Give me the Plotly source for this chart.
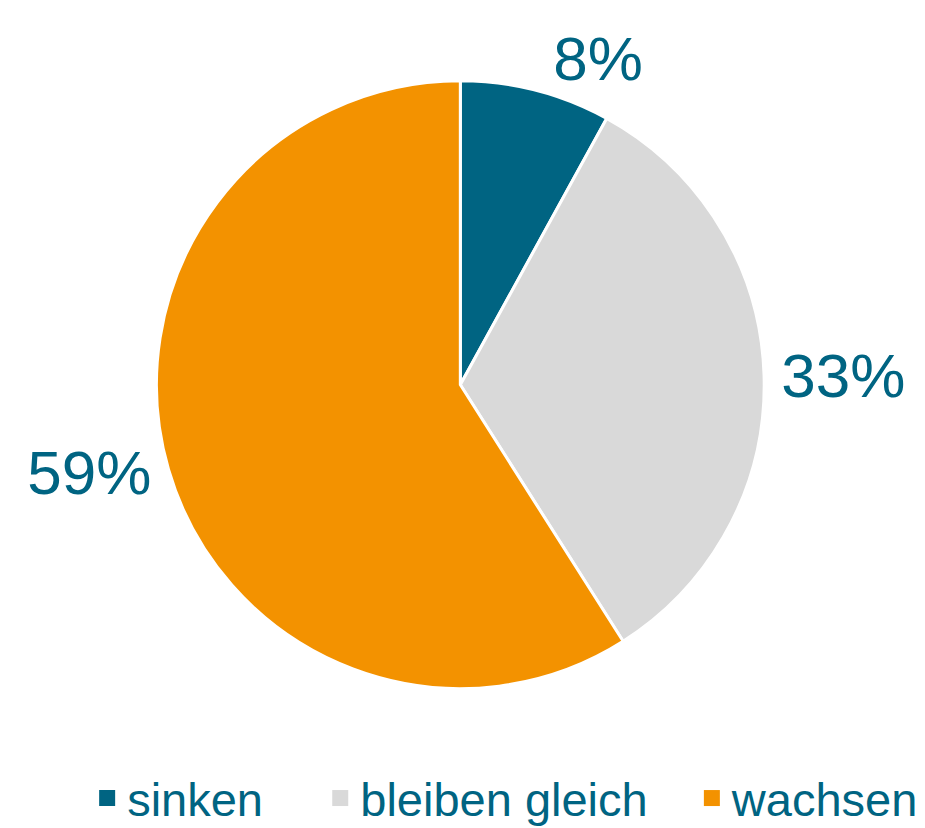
import plotly.graph_objects as go

labels = ["sinken", "bleiben gleich", "wachsen"]
values = [8, 33, 59]
colors = ["#006482", "#D9D9D9", "#F39200"]

text_color = "#006482"
font_family = "Liberation Sans, Arial"

fig = go.Figure()

fig.add_trace(
    go.Pie(
        labels=labels,
        values=values,
        sort=False,
        direction="clockwise",
        rotation=0,
        marker=dict(colors=colors, line=dict(color="white", width=3)),
        textposition="outside",
        texttemplate="%{percent:.0%}",
        textfont=dict(size=62, color=text_color, family=font_family),
        domain=dict(x=[0.16, 0.818], y=[0.178, 0.912]),
        hoverinfo="label+percent",
        showlegend=False,
    )
)

# legend entries with larger square swatches (nbsp padding widens the gaps)
pads = ["\u00a0" * 4, "\u00a0" * 3, ""]
for name, col, pad in zip(labels, colors, pads):
    fig.add_trace(
        go.Scatter(
            x=[None],
            y=[None],
            mode="markers",
            name=name + pad,
            marker=dict(symbol="square", size=21, color=col),
        )
    )

fig.update_layout(
    width=925,
    height=828,
    margin=dict(l=0, r=0, t=0, b=0),
    paper_bgcolor="white",
    plot_bgcolor="white",
    font=dict(family=font_family, color=text_color),
    xaxis=dict(visible=False),
    yaxis=dict(visible=False),
    showlegend=True,
    legend=dict(
        orientation="h",
        x=0.538,
        xanchor="center",
        y=0.0,
        yanchor="bottom",
        font=dict(size=47, color=text_color),
        itemsizing="trace",
        itemwidth=30,
        traceorder="normal",
    ),
)

fig.write_html("out.html")
